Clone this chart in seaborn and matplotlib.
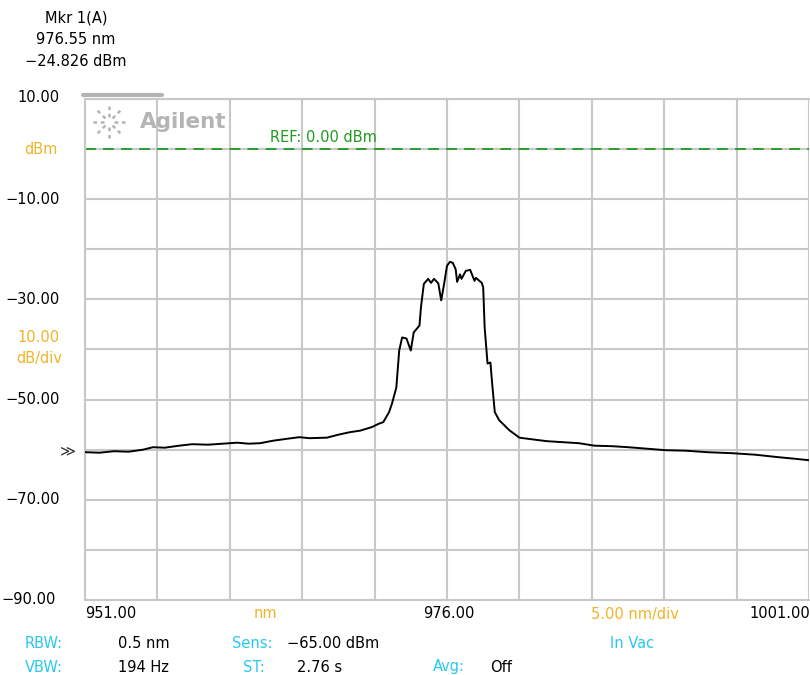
import numpy as np
import pandas as pd
import seaborn as sns
import matplotlib.pyplot as plt
from matplotlib.lines import Line2D

# spectrum trace (wavelength in nm, power in dBm)
wavelength = [951.0, 952.0, 953.0, 954.0, 955.0, 955.7, 956.5, 957.5, 958.4, 959.5,
              960.5, 961.5, 962.3, 963.1, 964.0, 965.0, 965.8, 966.5, 967.7, 968.5,
              969.3, 970.0, 970.8, 971.3, 971.6, 972.0, 972.2, 972.5, 972.7, 972.9,
              973.2, 973.5, 973.7, 974.1, 974.2, 974.4, 974.7, 974.9, 975.1, 975.4,
              975.6, 975.8, 976.0, 976.2, 976.4, 976.6, 976.7, 976.9, 977.0, 977.3,
              977.6, 977.9, 978.0, 978.4, 978.5, 978.6, 978.8, 979.0, 979.1, 979.3,
              979.6, 980.3, 981.0, 981.8, 982.9, 984.0, 985.1, 986.2, 987.4, 988.5,
              989.8, 991.1, 992.5, 994.0, 995.7, 997.3, 998.9, 1000.0, 1001.0]
power = [-60.5, -60.6, -60.3, -60.4, -60.0, -59.5, -59.6, -59.2, -58.9, -59.0,
         -58.8, -58.6, -58.8, -58.7, -58.2, -57.8, -57.5, -57.7, -57.6, -57.0,
         -56.5, -56.2, -55.5, -54.8, -54.5, -52.5, -50.8, -47.6, -40.2, -37.6,
         -37.8, -40.2, -36.6, -35.2, -31.6, -26.9, -25.9, -26.7, -25.9, -26.8,
         -30.2, -26.9, -23.3, -22.5, -22.7, -24.0, -26.5, -25.0, -25.9, -24.3,
         -24.1, -26.3, -25.7, -26.7, -27.6, -35.6, -42.8, -42.6, -46.2, -52.5,
         -54.1, -56.1, -57.6, -57.9, -58.3, -58.5, -58.7, -59.2, -59.3, -59.5,
         -59.8, -60.1, -60.2, -60.5, -60.7, -61.0, -61.5, -61.8, -62.1]

ref_level = 0.0
y_ticks = [10, 0, -10, -20, -30, -40, -50, -60, -70, -80, -90]
x_ticks = [951, 956, 961, 966, 971, 976, 981, 986, 991, 996, 1001]

orange = '#f0b428'
cyan = '#28c8f0'
green = '#1e9a1e'
gridc = '#c8c8c8'

sns.set_style('white')
plt.rcParams['font.family'] = ['DejaVu Sans']

W, H = 810, 675
fig = plt.figure(figsize=(W / 100, H / 100), dpi=100)
ax = fig.add_axes([85 / W, 1 - 600 / H, (809 - 85) / W, (600 - 99) / H])

df = pd.DataFrame({'nm': wavelength, 'dBm': power})
sns.lineplot(data=df, x='nm', y='dBm', ax=ax, color='black', lw=1.4, sort=False, zorder=3)

ax.axhline(ref_level, color=green, lw=1.3, ls=(0, (6, 4)), zorder=2)
ax.set_xlim(951, 1001)
ax.set_ylim(-90, 10)
ax.set_xticks(x_ticks)
ax.set_yticks(y_ticks)
ax.grid(True, color=gridc, lw=1.5)
ax.tick_params(length=0, labelleft=False, labelbottom=False)
ax.set_xlabel('')
ax.set_ylabel('')
for s in ['left', 'bottom', 'top']:
    ax.spines[s].set_color(gridc)
    ax.spines[s].set_linewidth(1.5)
ax.spines['right'].set_visible(False)


def ft(x, y, s, color='black', ha='left', size=10.5, **kw):
    fig.text(x / W, 1 - y / H, s, color=color, ha=ha, va='center', fontsize=size, **kw)


# marker readout
ft(76, 18, 'Mkr 1(A)', ha='center')
ft(76, 40, '976.55 nm', ha='center')
ft(76, 62, '\u221224.826 dBm', ha='center')

# y labels
ft(60, 98, '10.00', ha='right')
ft(58, 149, 'dBm', color=orange, ha='right')
ft(60, 199, '\u221210.00', ha='right')
ft(60, 299, '\u221230.00', ha='right')
ft(60, 338, '10.00', color=orange, ha='right')
ft(62, 358, 'dB/div', color=orange, ha='right')
ft(60, 400, '\u221250.00', ha='right')
ft(60, 500, '\u221270.00', ha='right')
ft(56, 600, '\u221290.00', ha='right')
ft(68, 451, '\u226b', color='#333333', ha='center', size=11)

# ref label
ft(270, 138, 'REF: 0.00 dBm', color=green)

# x labels
ft(85, 614, '951.00')
ft(265, 614, 'nm', color=orange, ha='center')
ft(449, 614, '976.00', ha='center')
ft(635, 614, '5.00 nm/div', color=orange, ha='center')
ft(810, 614, '1001.00', ha='right')

# settings block
ft(25, 643, 'RBW:', color=cyan)
ft(118, 643, '0.5 nm')
ft(232, 643, 'Sens:', color=cyan)
ft(287, 643, '\u221265.00 dBm')
ft(632, 643, 'In Vac', color=cyan, ha='center')
ft(25, 667, 'VBW:', color=cyan)
ft(118, 667, '194 Hz')
ft(243, 667, 'ST:', color=cyan)
ft(297, 667, '2.76 s')
ft(433, 667, 'Avg:', color=cyan)
ft(490, 667, 'Off')

# gray tab above the grid and logo
fig.add_artist(Line2D([83 / W, 162 / W], [1 - 95 / H, 1 - 95 / H], color='#b4b4b4', lw=3))
ft(140, 122, 'Agilent', color='#b4b4b4', size=15.5, fontweight='bold')
cx, cy = 109, 122
for a in np.arange(0, 360, 45):
    r0, r1 = 5, 16
    x0 = cx + r0 * np.cos(np.radians(a))
    y0 = cy + r0 * np.sin(np.radians(a))
    x1 = cx + r1 * np.cos(np.radians(a))
    y1 = cy + r1 * np.sin(np.radians(a))
    fig.add_artist(Line2D([x0 / W, x1 / W], [1 - y0 / H, 1 - y1 / H],
                          color='#b4b4b4', lw=1.8, ls=(0, (1.5, 1.5))))

fig.savefig('out.png', dpi=100)
